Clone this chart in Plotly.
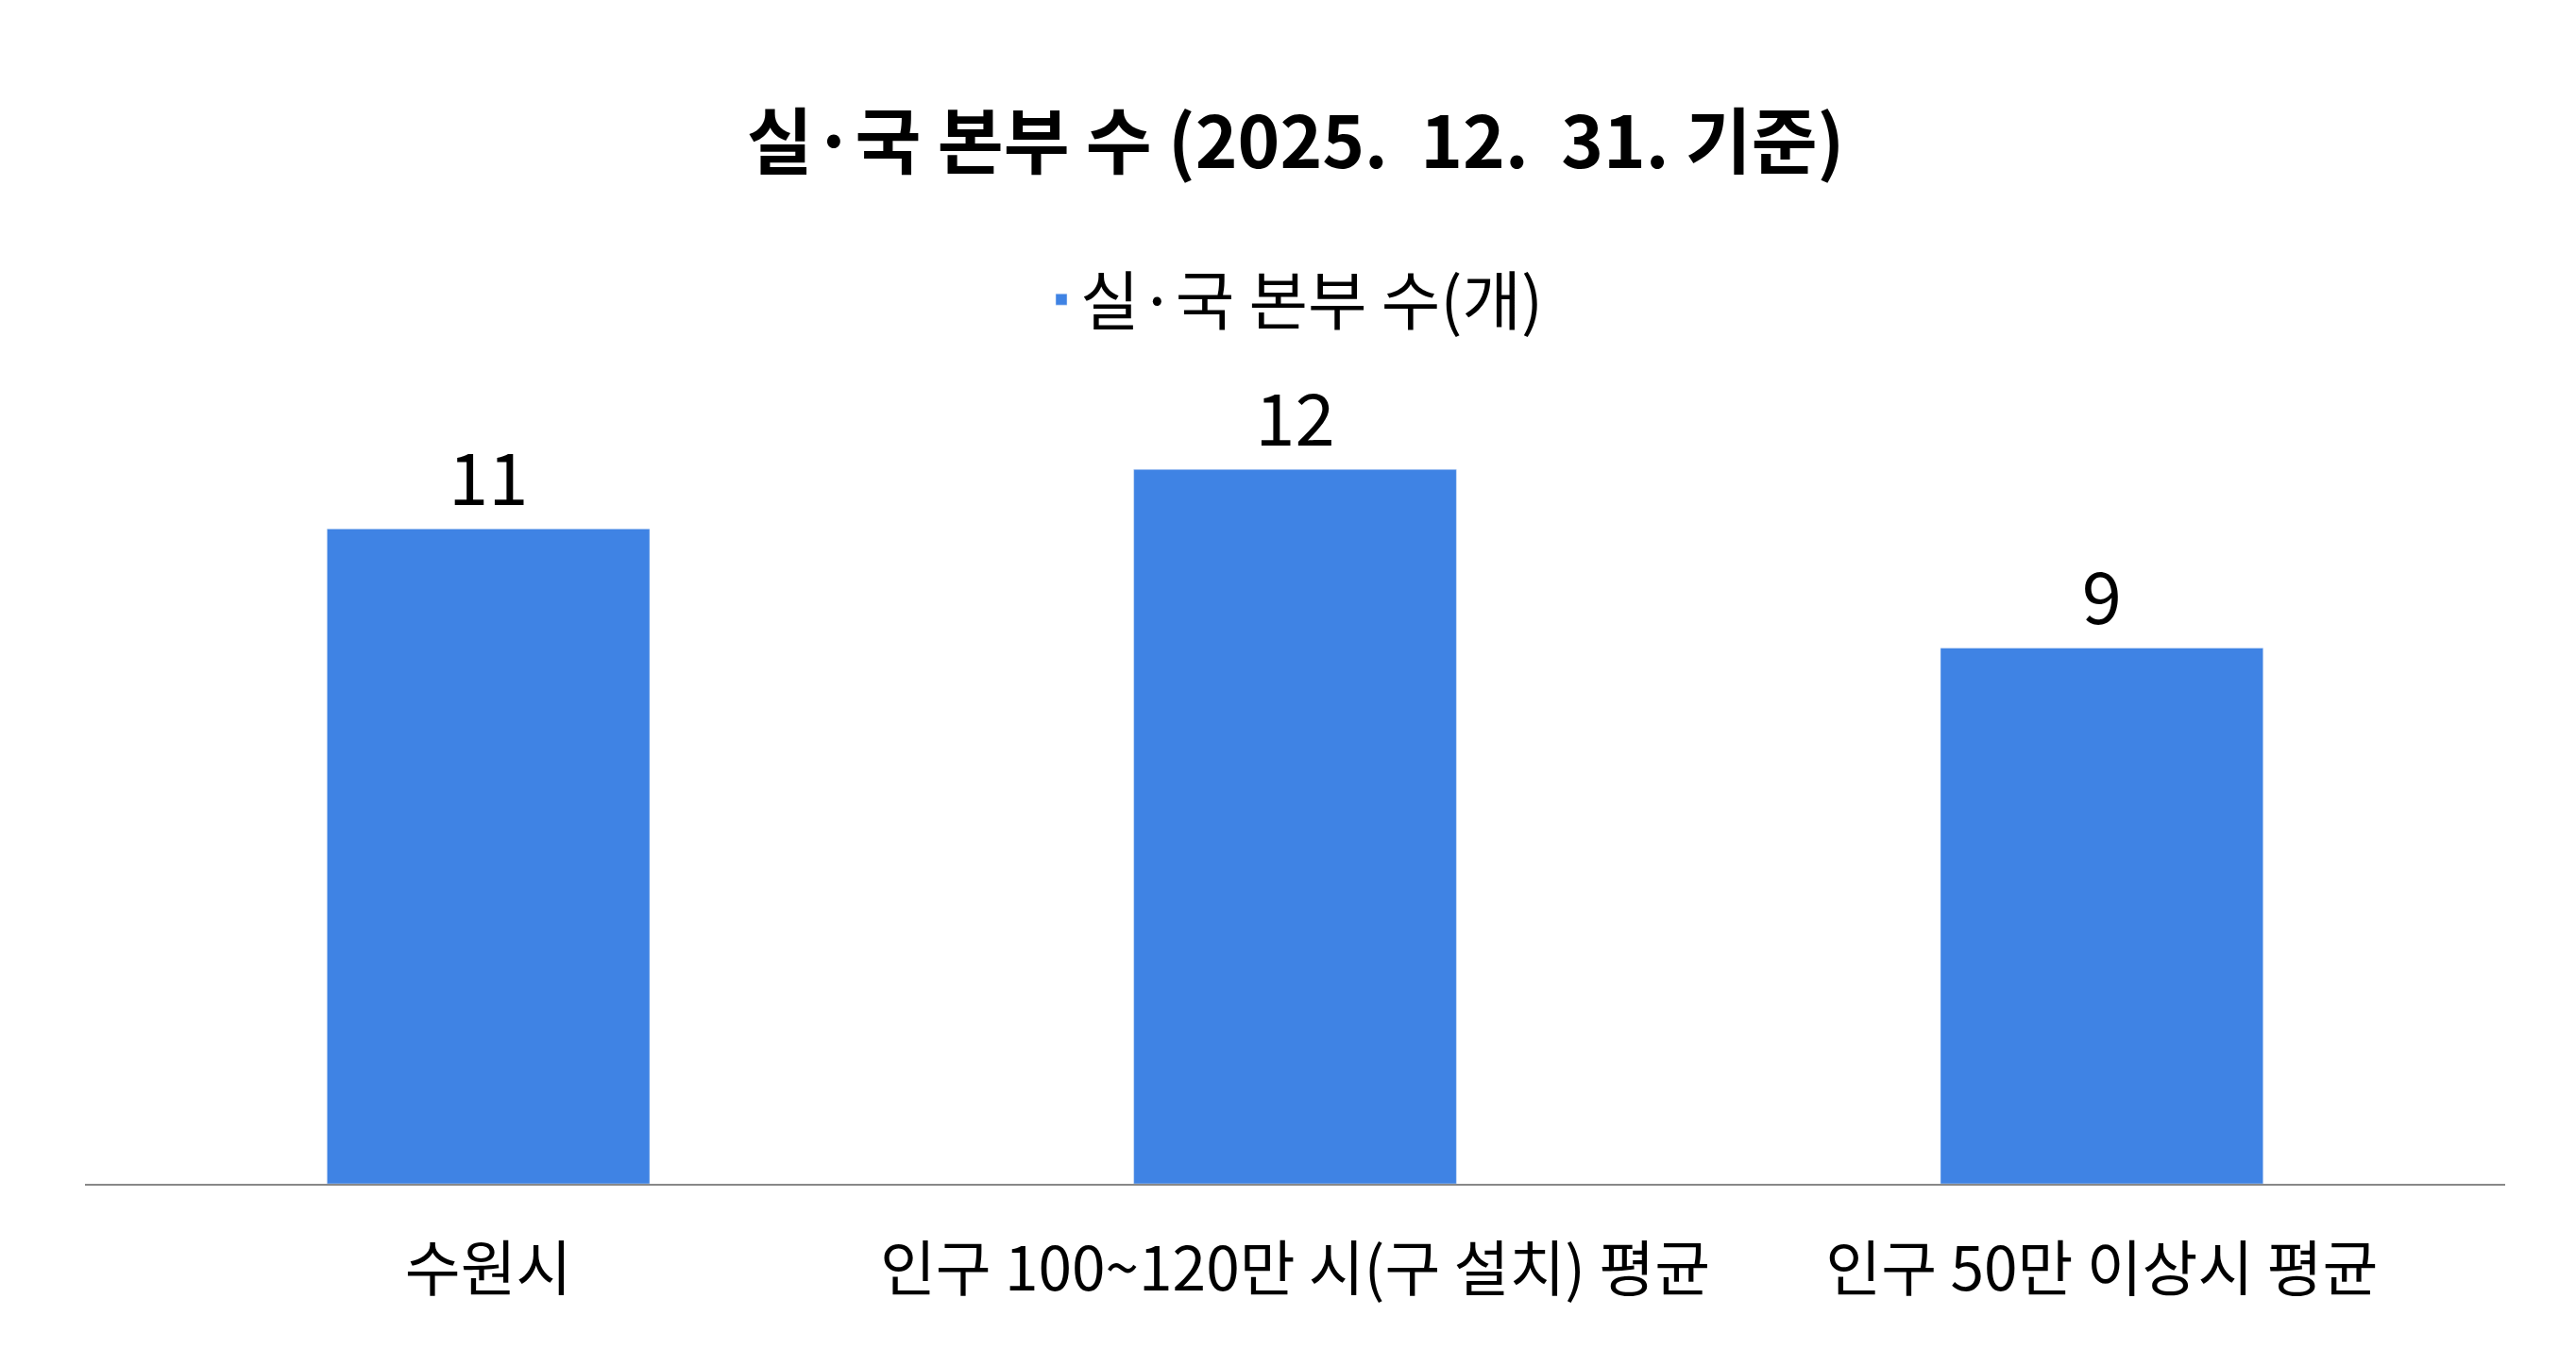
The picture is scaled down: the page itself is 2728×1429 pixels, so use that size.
import plotly.graph_objects as go

categories = ["수원시", "인구 100~120만 시(구 설치) 평균", "인구 50만 이상시 평균"]
values = [11, 12, 9]
series_name = "실·국 본부 수(개)"
title = "<b>실·국 본부 수 (2025.  12.  31. 기준)</b>"

F = "Noto Sans CJK KR"
fig = go.Figure(go.Bar(
    x=categories, y=values, name=series_name,
    marker_color="#3F83E4", width=0.4,
    text=values, textposition="outside",
    textfont=dict(size=76, color="black", family=F),
    cliponaxis=False,
))
fig.update_layout(
    width=2728, height=1429,
    paper_bgcolor="white", plot_bgcolor="white",
    margin=dict(l=82, r=83, t=300, b=183),
    font=dict(family=F, color="black"),
    title=dict(text=title, x=0.5, xanchor="center", y=0.9, yanchor="middle",
               font=dict(size=76, family=F, color="black")),
    showlegend=True,
    legend=dict(orientation="h", x=0.5, xanchor="center", y=0.99, yanchor="middle",
                font=dict(size=68, family=F)),
    bargap=0.6,
)
fig.update_yaxes(range=[0, 15], visible=False)
fig.update_xaxes(showline=True, linecolor="#888888", linewidth=2,
                 tickfont=dict(size=64, family=F), ticks="", ticklabelstandoff=34)
fig.write_html("out.html")
